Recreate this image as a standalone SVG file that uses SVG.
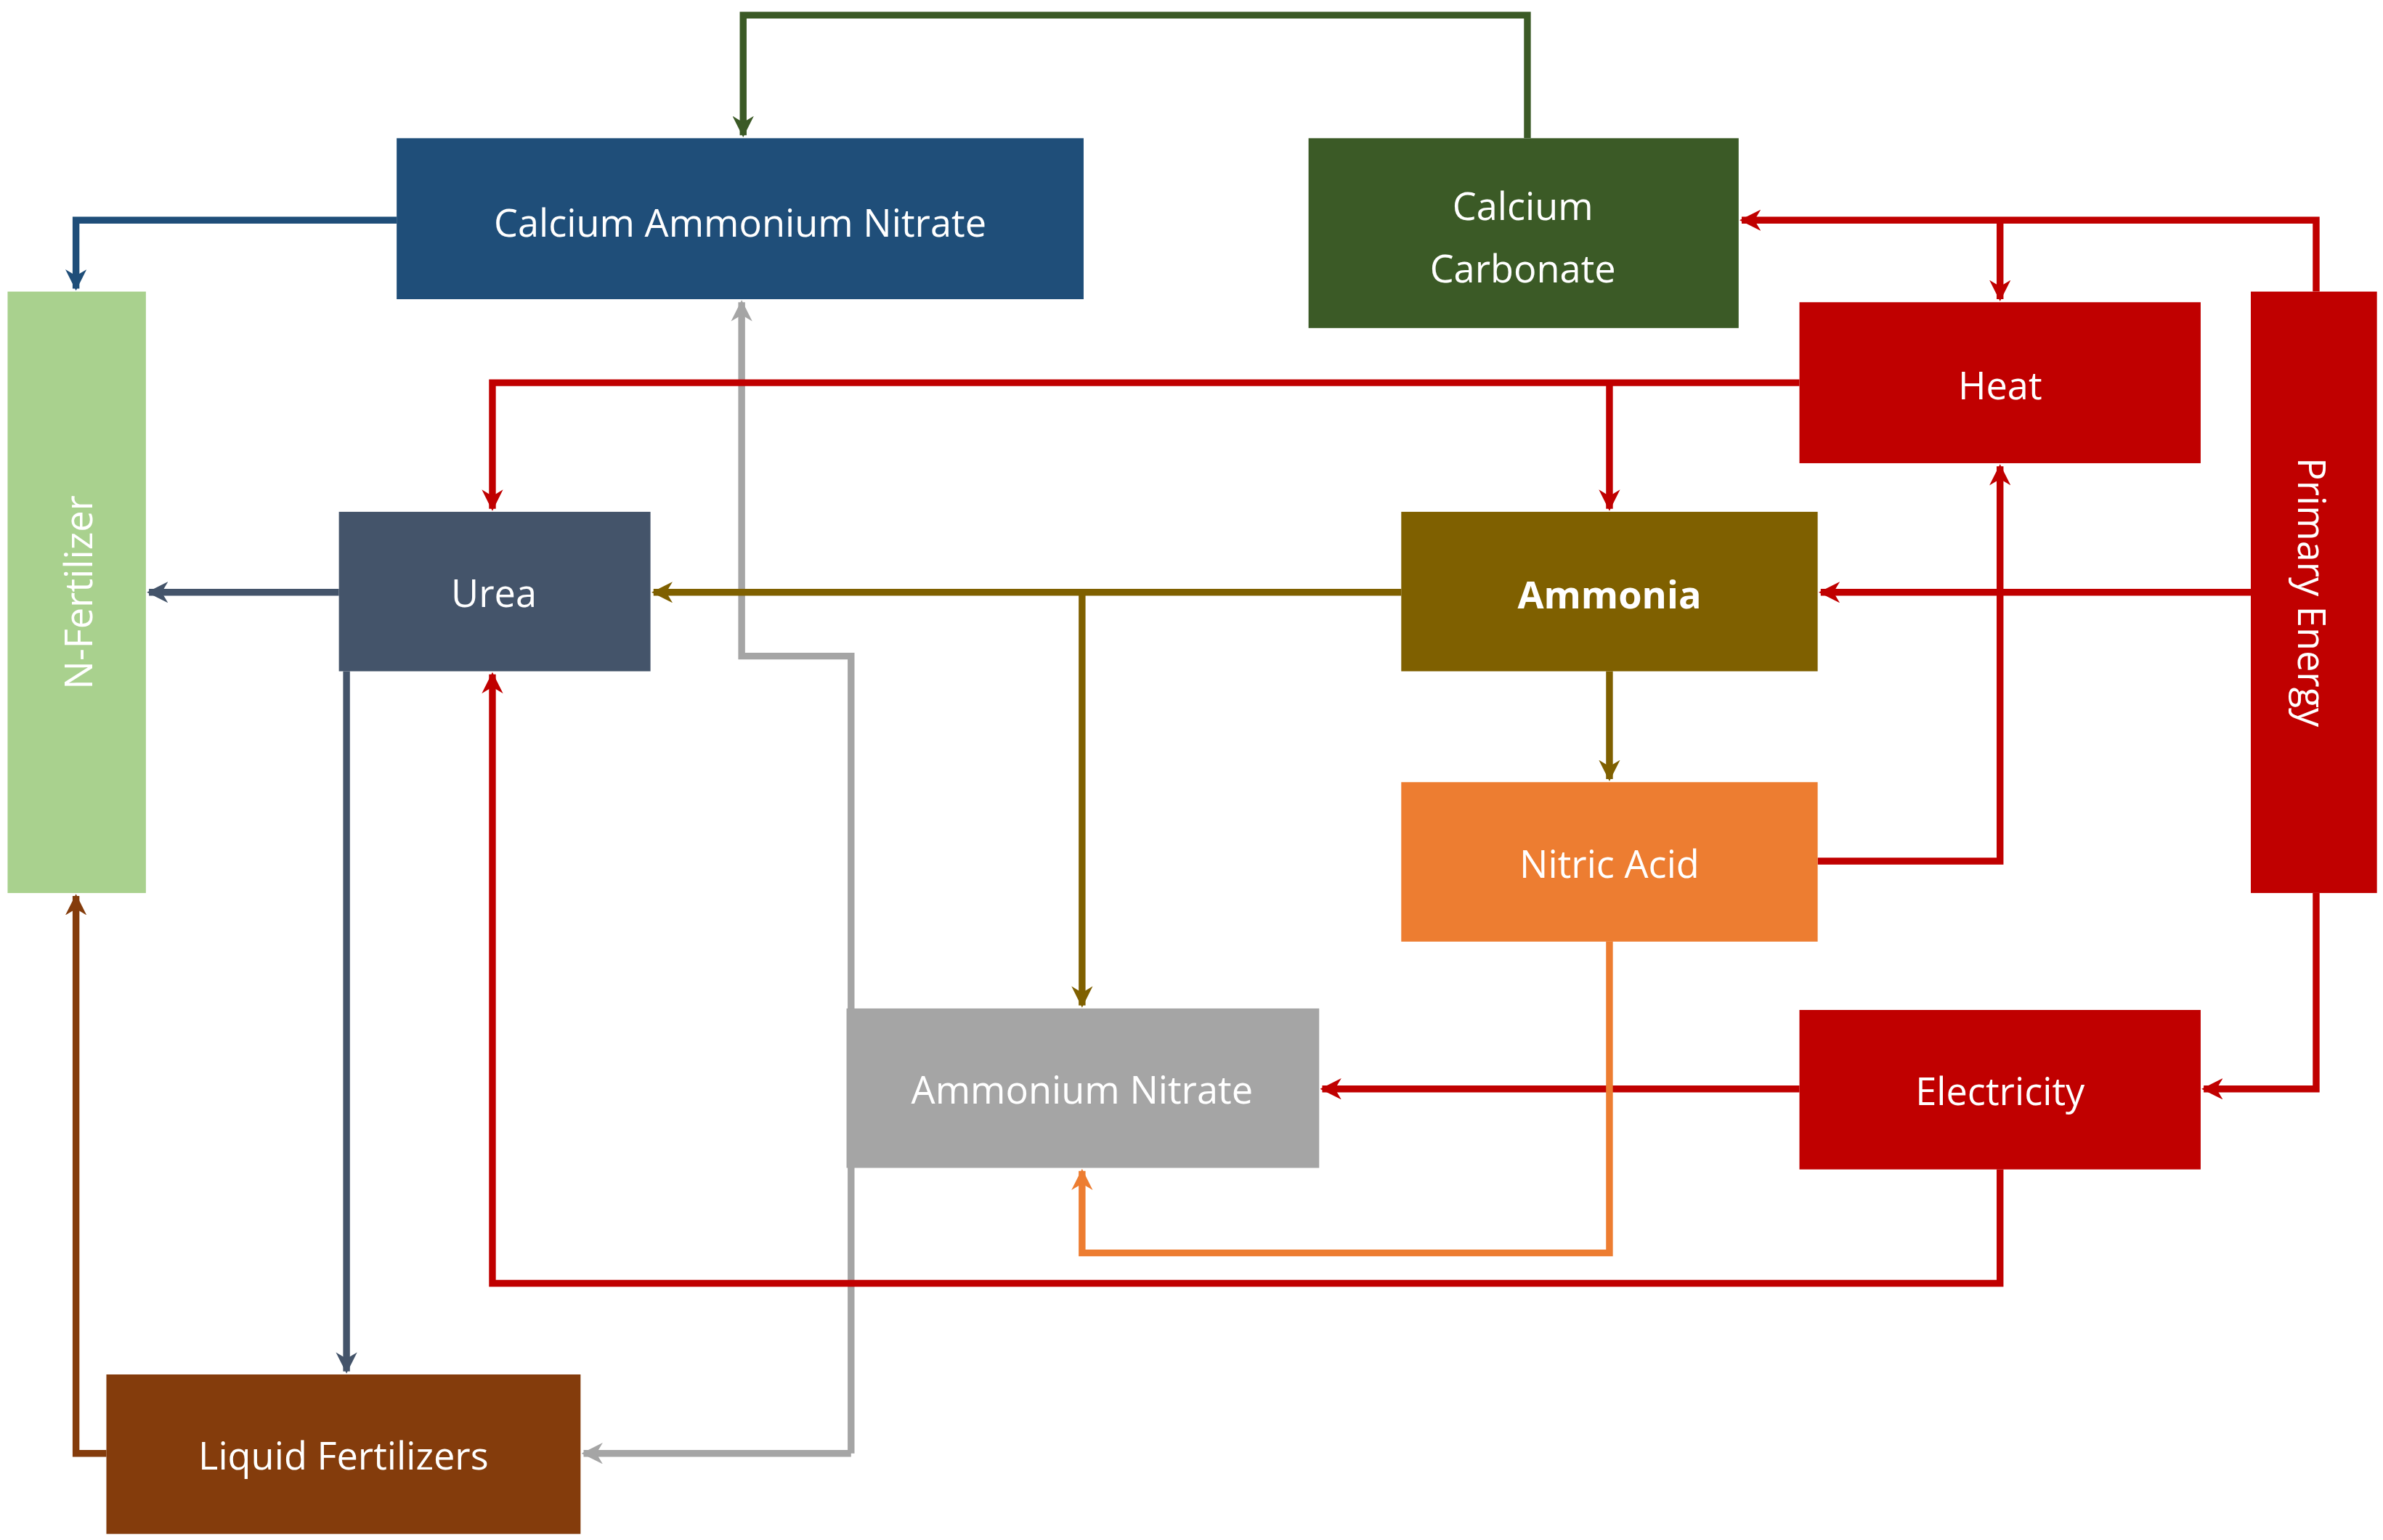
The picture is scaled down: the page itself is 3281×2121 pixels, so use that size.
<svg xmlns="http://www.w3.org/2000/svg" width="3281" height="2121" viewBox="0 0 3281 2121">
<style>
text{font-family:"Open Sans","Liberation Sans",sans-serif;font-size:25px;fill:#fff;text-anchor:middle;dominant-baseline:central}
.c{fill:none;stroke-width:4.5;stroke-linejoin:miter}
</style>
<defs>
<marker id="mG" viewBox="0 0 10 10" refX="9" refY="5" markerWidth="14" markerHeight="14" markerUnits="userSpaceOnUse" orient="auto"><path d="M0,0L10,5L0,10L3,5z" fill="#3B5A26"/></marker>
<marker id="mB" viewBox="0 0 10 10" refX="9" refY="5" markerWidth="14" markerHeight="14" markerUnits="userSpaceOnUse" orient="auto"><path d="M0,0L10,5L0,10L3,5z" fill="#1F4E79"/></marker>
<marker id="mR" viewBox="0 0 10 10" refX="9" refY="5" markerWidth="14" markerHeight="14" markerUnits="userSpaceOnUse" orient="auto"><path d="M0,0L10,5L0,10L3,5z" fill="#C00000"/></marker>
<marker id="mS" viewBox="0 0 10 10" refX="9" refY="5" markerWidth="14" markerHeight="14" markerUnits="userSpaceOnUse" orient="auto"><path d="M0,0L10,5L0,10L3,5z" fill="#44546A"/></marker>
<marker id="mO" viewBox="0 0 10 10" refX="9" refY="5" markerWidth="14" markerHeight="14" markerUnits="userSpaceOnUse" orient="auto"><path d="M0,0L10,5L0,10L3,5z" fill="#7F6000"/></marker>
<marker id="mA" viewBox="0 0 10 10" refX="9" refY="5" markerWidth="14" markerHeight="14" markerUnits="userSpaceOnUse" orient="auto"><path d="M0,0L10,5L0,10L3,5z" fill="#ED7D31"/></marker>
<marker id="mY" viewBox="0 0 10 10" refX="9" refY="5" markerWidth="14" markerHeight="14" markerUnits="userSpaceOnUse" orient="auto"><path d="M0,0L10,5L0,10L3,5z" fill="#A5A5A5"/></marker>
<marker id="mW" viewBox="0 0 10 10" refX="9" refY="5" markerWidth="14" markerHeight="14" markerUnits="userSpaceOnUse" orient="auto"><path d="M0,0L10,5L0,10L3,5z" fill="#843C0C"/></marker>
</defs>
<rect width="3281" height="2121" fill="#fff"/>
<g transform="scale(2.0925,2.0917)">
<g id="connectors">
<path class="c" stroke="#A5A5A5" d="M560,957H384" marker-end="url(#mY)"/>
<path class="c" stroke="#A5A5A5" d="M560,957V432H488V199" marker-end="url(#mY)"/>
<path class="c" stroke="#3B5A26" d="M1005,91V10H489V89" marker-end="url(#mG)"/>
<path class="c" stroke="#1F4E79" d="M261,145H50V190" marker-end="url(#mB)"/>
<path class="c" stroke="#C00000" d="M1524,192V145H1146" marker-end="url(#mR)"/>
<path class="c" stroke="#C00000" d="M1316,145V197" marker-end="url(#mR)"/>
<path class="c" stroke="#C00000" d="M1184,252H324V335" marker-end="url(#mR)"/>
<path class="c" stroke="#C00000" d="M1059,252V335" marker-end="url(#mR)"/>
<path class="c" stroke="#44546A" d="M223,390H98" marker-end="url(#mS)"/>
<path class="c" stroke="#44546A" d="M228,442V903" marker-end="url(#mS)"/>
<path class="c" stroke="#7F6000" d="M922,390H430" marker-end="url(#mO)"/>
<path class="c" stroke="#7F6000" d="M712,390V662" marker-end="url(#mO)"/>
<path class="c" stroke="#7F6000" d="M1059,442V513" marker-end="url(#mO)"/>
<path class="c" stroke="#C00000" d="M1481,390H1198" marker-end="url(#mR)"/>
<path class="c" stroke="#C00000" d="M1196,567H1316V307" marker-end="url(#mR)"/>
<path class="c" stroke="#C00000" d="M1524,588V717H1450" marker-end="url(#mR)"/>
<path class="c" stroke="#C00000" d="M1184,717H870" marker-end="url(#mR)"/>
<path class="c" stroke="#ED7D31" d="M1059,620V825H712V771" marker-end="url(#mA)"/>
<path class="c" stroke="#C00000" d="M1316,770V845H324V444" marker-end="url(#mR)"/>
<path class="c" stroke="#843C0C" d="M70,957H50V590" marker-end="url(#mW)"/>
</g>
<g id="can"><rect x="261" y="91" width="452" height="106" fill="#1F4E79"/><text x="487" y="146">Calcium Ammonium Nitrate</text></g>
<g id="caco3"><rect x="861" y="91" width="283" height="125" fill="#3B5A26"/><text x="1002" y="135">Calcium</text><text x="1002" y="176">Carbonate</text></g>
<g id="nfert"><rect x="5" y="192" width="91" height="396" fill="#A9D18E"/><text transform="translate(51,390) rotate(-90)">N-Fertilizer</text></g>
<g id="heat"><rect x="1184" y="199" width="264" height="106" fill="#C00000"/><text x="1316" y="253">Heat</text></g>
<g id="primary"><rect x="1481" y="192" width="83" height="396" fill="#C00000"/><text transform="translate(1522,390) rotate(90)">Primary Energy</text></g>
<g id="urea"><rect x="223" y="337" width="205" height="105" fill="#44546A"/><text x="325" y="390">Urea</text></g>
<g id="ammonia"><rect x="922" y="337" width="274" height="105" fill="#7F6000"/><text x="1059" y="391" font-weight="bold">Ammonia</text></g>
<g id="nitric"><rect x="922" y="515" width="274" height="105" fill="#ED7D31"/><text x="1059" y="568">Nitric Acid</text></g>
<g id="an"><rect x="557" y="664" width="311" height="105" fill="#A5A5A5"/><text x="712" y="717">Ammonium Nitrate</text></g>
<g id="elec"><rect x="1184" y="665" width="264" height="105" fill="#C00000"/><text x="1316" y="718">Electricity</text></g>
<g id="lf"><rect x="70" y="905" width="312" height="105" fill="#843C0C"/><text x="226" y="958">Liquid Fertilizers</text></g>
</g>
</svg>
